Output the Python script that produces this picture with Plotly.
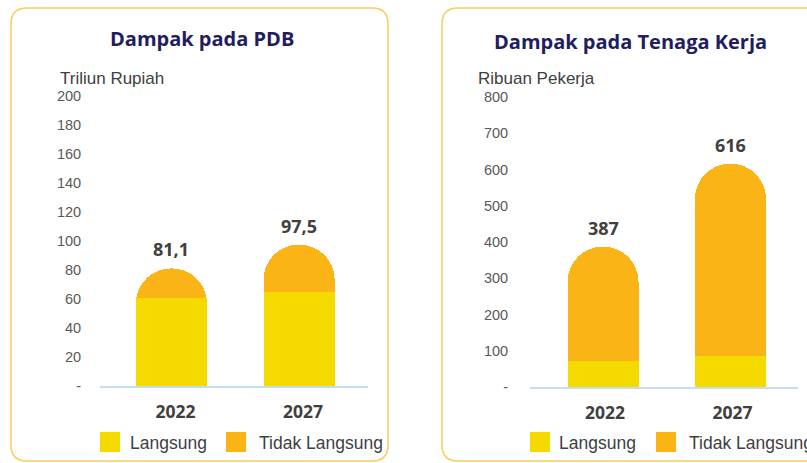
import plotly.graph_objects as go

W, H = 807, 463

# ---- data ----
years = ["2022", "2027"]
pdb_langsung = [60.5, 64.6]
pdb_tidak = [20.6, 32.9]
tk_langsung = [72, 86]
tk_tidak = [315, 530]

pdb_ticks = [0, 20, 40, 60, 80, 100, 120, 140, 160, 180, 200]
pdb_ticktext = ["-", "20", "40", "60", "80", "100", "120", "140", "160", "180", "200"]
tk_ticks = [0, 100, 200, 300, 400, 500, 600, 700, 800]
tk_ticktext = ["-", "100", "200", "300", "400", "500", "600", "700", "800"]

series_names = ["Langsung", "Tidak Langsung"]
titles = ["Dampak pada PDB", "Dampak pada Tenaga Kerja"]
unit_titles = ["Triliun Rupiah", "Ribuan Pekerja"]

# ---- style ----
YELLOW = "#F5DA00"
ORANGE = "#FBB416"
NAVY = "#221D5E"
GRAY = "#595959"
DARK = "#404040"
AXIS_BLUE = "#C5DDF2"
BORDER = "#FCCB5C"


def px(x):
    return x / W


def py(y):
    return 1 - y / H


def fmt(v):
    s = f"{v:.1f}".replace(".", ",")
    if s.endswith(",0"):
        s = s[:-2]
    return s


fig = go.Figure()

panels = [
    dict(xa="x", ya="y", L=pdb_langsung, T=pdb_tidak, dec=True),
    dict(xa="x2", ya="y2", L=tk_langsung, T=tk_tidak, dec=False),
]
for p in panels:
    fig.add_trace(go.Bar(x=years, y=p["L"], name=series_names[0],
                         marker=dict(color=YELLOW, line_width=0, cornerradius="50%"),
                         width=0.557, xaxis=p["xa"], yaxis=p["ya"], showlegend=False, hoverinfo="skip"))
    fig.add_trace(go.Bar(x=years, y=p["T"], name=series_names[1],
                         marker=dict(color=ORANGE, line_width=0, cornerradius="50%"),
                         width=0.557, xaxis=p["xa"], yaxis=p["ya"], showlegend=False, hoverinfo="skip"))

annotations = []
for p in panels:
    for i, (a, b) in enumerate(zip(p["L"], p["T"])):
        tot = a + b
        txt = fmt(tot) if p["dec"] else f"{round(tot):d}"
        annotations.append(dict(x=i, y=tot, xref=p["xa"], yref=p["ya"], text=f"<b>{txt}</b>",
                                showarrow=False, yanchor="bottom", yshift=5,
                                font=dict(family="Open Sans", size=18, color=DARK)))

# titles
annotations.append(dict(x=px(202), y=py(38), xref="paper", yref="paper", text=f"<b>{titles[0]}</b>",
                        showarrow=False, xanchor="center", yanchor="middle",
                        font=dict(family="Open Sans", size=20, color=NAVY)))
annotations.append(dict(x=px(630), y=py(42), xref="paper", yref="paper", text=f"<b>{titles[1]}</b>",
                        showarrow=False, xanchor="center", yanchor="middle",
                        font=dict(family="Open Sans", size=20, color=NAVY)))
# unit titles
annotations.append(dict(x=px(58), y=py(78), xref="paper", yref="paper", text=unit_titles[0],
                        showarrow=False, xanchor="left", yanchor="middle",
                        font=dict(family="Liberation Sans", size=17, color=DARK)))
annotations.append(dict(x=px(476), y=py(78), xref="paper", yref="paper", text=unit_titles[1],
                        showarrow=False, xanchor="left", yanchor="middle",
                        font=dict(family="Liberation Sans", size=17, color=DARK)))

shapes = []


def rrect(x0, y0, x1, y1, r):
    return (f"M {px(x0 + r)} {py(y0)} L {px(x1 - r)} {py(y0)} "
            f"Q {px(x1)} {py(y0)} {px(x1)} {py(y0 + r)} "
            f"L {px(x1)} {py(y1 - r)} Q {px(x1)} {py(y1)} {px(x1 - r)} {py(y1)} "
            f"L {px(x0 + r)} {py(y1)} Q {px(x0)} {py(y1)} {px(x0)} {py(y1 - r)} "
            f"L {px(x0)} {py(y0 + r)} Q {px(x0)} {py(y0)} {px(x0 + r)} {py(y0)} Z")


shapes.append(dict(type="path", xref="paper", yref="paper", path=rrect(11, 8, 388, 461, 16),
                   line=dict(color=BORDER, width=1.5), fillcolor="rgba(0,0,0,0)", layer="below"))
shapes.append(dict(type="path", xref="paper", yref="paper", path=rrect(442, 8, 830, 461, 16),
                   line=dict(color=BORDER, width=1.5), fillcolor="rgba(0,0,0,0)", layer="below"))

# legends (manual)
legend_items = [
    (100, 128, YELLOW, series_names[0]), (226, 257, ORANGE, series_names[1]),
    (530, 557, YELLOW, series_names[0]), (656, 687, ORANGE, series_names[1]),
]
for sx, tx, col, name in legend_items:
    shapes.append(dict(type="rect", xref="paper", yref="paper", x0=px(sx), x1=px(sx + 20),
                       y0=py(432), y1=py(452), fillcolor=col, line_width=0))
    annotations.append(dict(x=px(tx), y=py(443), xref="paper", yref="paper", text=name,
                            showarrow=False, xanchor="left", yanchor="middle",
                            font=dict(family="Liberation Sans", size=17.5, color=DARK)))

xcommon = dict(type="category", showline=True, linecolor=AXIS_BLUE, linewidth=1.5, showgrid=False,
               zeroline=False, ticks="outside", ticklen=9, tickcolor="rgba(0,0,0,0)", automargin=False,
               tickfont=dict(family="Open Sans", size=17.5, color=DARK), fixedrange=True)
ycommon = dict(showline=False, showgrid=False, zeroline=False, ticks="outside", automargin=False,
               fixedrange=True,
               tickcolor="rgba(0,0,0,0)", tickfont=dict(family="Liberation Sans", size=14.5, color=GRAY))

fig.update_layout(
    template="none",
    width=W, height=H, margin=dict(l=0, r=0, t=0, b=0, pad=0, autoexpand=False),
    paper_bgcolor="white", plot_bgcolor="rgba(0,0,0,0)",
    barmode="stack", showlegend=False,
    xaxis=dict(domain=[px(100), px(368)], anchor="y", range=[-0.56, 1.54], ticklabelshift=4,
               tickvals=years, ticktext=[f"<b>{y}</b>" for y in years], **xcommon),
    xaxis2=dict(domain=[px(530), px(798)], anchor="y2", range=[-0.573, 1.53], ticklabelshift=2,
                tickvals=years, ticktext=[f"<b>{y}</b>" for y in years], **xcommon),
    yaxis=dict(domain=[py(386), py(96)], anchor="x", range=[0, 200], tickvals=pdb_ticks,
               ticktext=pdb_ticktext, ticklen=15, **ycommon),
    yaxis2=dict(domain=[py(387), py(97)], anchor="x2", range=[0, 800], tickvals=tk_ticks,
                ticktext=tk_ticktext, ticklen=18, **ycommon),
    annotations=annotations, shapes=shapes,
)

fig.write_html("out.html", config={"displayModeBar": False},
               post_script="document.body.style.margin='0px';document.body.style.overflow='hidden';")
